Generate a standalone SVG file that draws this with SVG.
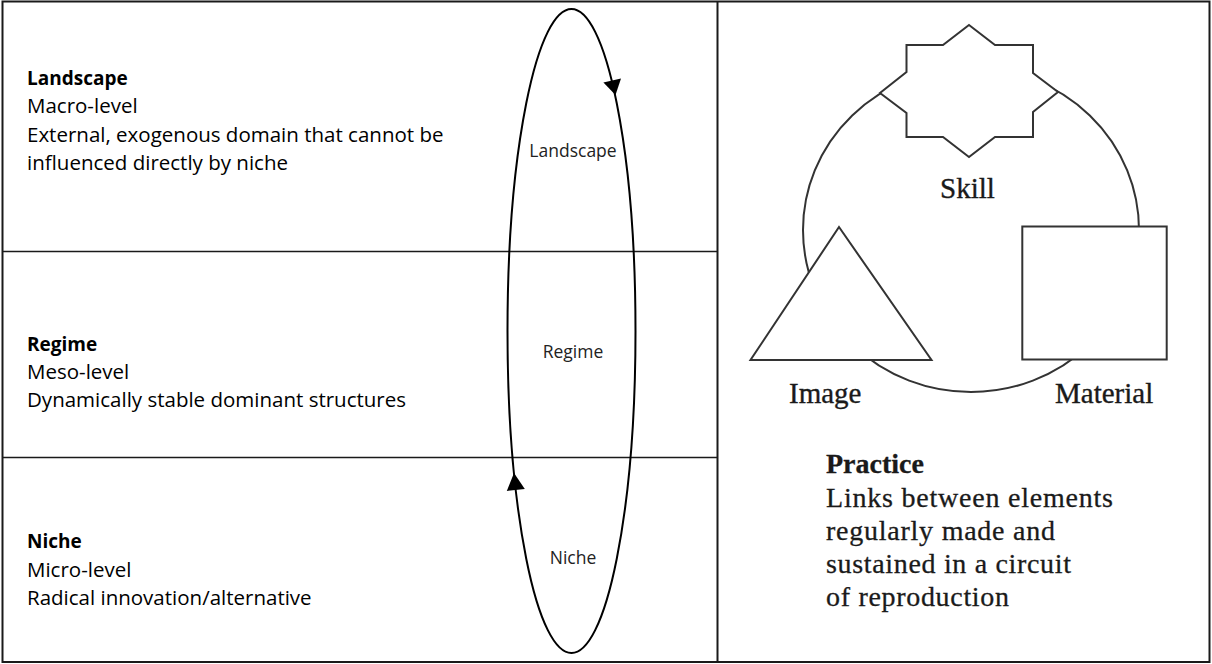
<svg xmlns="http://www.w3.org/2000/svg" width="1212" height="664" viewBox="0 0 1212 664">
<style>
.frame{fill:none;stroke:#1a1a1a;stroke-width:2}
.div{stroke:#1a1a1a;stroke-width:1.6}
.loop{fill:none;stroke:#000;stroke-width:2}
.head{fill:#000}
.lt{font-family:"Open Sans","Liberation Sans",sans-serif;font-size:20.5px;fill:#000}
.lt .b{font-weight:bold;font-size:19px}
.el{font-family:"Open Sans","Liberation Sans",sans-serif;font-size:17.5px;fill:#222;text-anchor:middle}
.shape{fill:#fff;stroke:#333;stroke-width:2}
.circ{fill:none;stroke:#333;stroke-width:2}
.st{font-family:"Liberation Serif","Times New Roman",serif;font-size:29px;fill:#1a1a1a;stroke:#1a1a1a;stroke-width:0.35}
.pt{font-family:"Liberation Serif","Times New Roman",serif;font-size:28px;fill:#1a1a1a;stroke:#1a1a1a;stroke-width:0.3}
</style>
<rect width="1212" height="664" fill="#fff"/>
<g id="frame">
<rect class="frame" x="2.5" y="1.5" width="1207" height="660.5"/>
<line class="frame" x1="717.5" y1="1.5" x2="717.5" y2="662"/>
<line class="div" x1="2.5" y1="251.5" x2="717.5" y2="251.5"/>
<line class="div" x1="2.5" y1="457.5" x2="717.5" y2="457.5"/>
</g>
<g id="connectors">
<ellipse class="loop" cx="571.5" cy="331" rx="64" ry="322"/>
<polygon class="head" points="615.5,95 621,78.4 603.4,82.4"/>
<polygon class="head" points="514,473 524.8,489.1 506.8,490.9"/>
<ellipse class="circ" cx="971" cy="230" rx="168" ry="162"/>
</g>
<g id="landscape">
<text class="lt" x="27" y="85"><tspan class="b">Landscape</tspan></text>
<text class="lt" x="27" y="113.3">Macro-level</text>
<text class="lt" x="27" y="141.7">External, exogenous domain that cannot be</text>
<text class="lt" x="27" y="170">influenced directly by niche</text>
</g>
<g id="regime">
<text class="lt" x="27" y="350.7"><tspan class="b">Regime</tspan></text>
<text class="lt" x="27" y="379">Meso-level</text>
<text class="lt" x="27" y="406.7">Dynamically stable dominant structures</text>
</g>
<g id="niche">
<text class="lt" x="27" y="548.3"><tspan class="b">Niche</tspan></text>
<text class="lt" x="27" y="576.7">Micro-level</text>
<text class="lt" x="27" y="605">Radical innovation/alternative</text>
</g>
<g id="loop-labels">
<text class="el" x="573" y="156.5">Landscape</text>
<text class="el" x="573" y="358.3">Regime</text>
<text class="el" x="573" y="564.3">Niche</text>
</g>
<g id="skill">
<polygon class="shape" points="969,25 995,45 1033,45 1033,73 1058,92 1033,112 1033,137 995,137 969,157 943,137 906.5,137 906.5,113 880,93 906.5,72 906.5,45 943,45"/>
<text class="st" x="967.5" y="198" text-anchor="middle">Skill</text>
</g>
<g id="image">
<polygon class="shape" points="839,227 931.5,360 750.5,360"/>
<text class="st" x="789" y="403">Image</text>
</g>
<g id="material">
<rect class="shape" x="1022.3" y="226.5" width="144.4" height="133"/>
<text class="st" x="1055" y="403">Material</text>
</g>
<g id="practice">
<text class="pt" x="826" y="472.5" font-weight="bold">Practice</text>
<text class="pt" x="826" y="506.5" textLength="287" lengthAdjust="spacing">Links between elements</text>
<text class="pt" x="826" y="539.5" textLength="229" lengthAdjust="spacing">regularly made and</text>
<text class="pt" x="826" y="572.5" textLength="245" lengthAdjust="spacing">sustained in a circuit</text>
<text class="pt" x="826" y="605.5" textLength="183" lengthAdjust="spacing">of reproduction</text>
</g>
</svg>
